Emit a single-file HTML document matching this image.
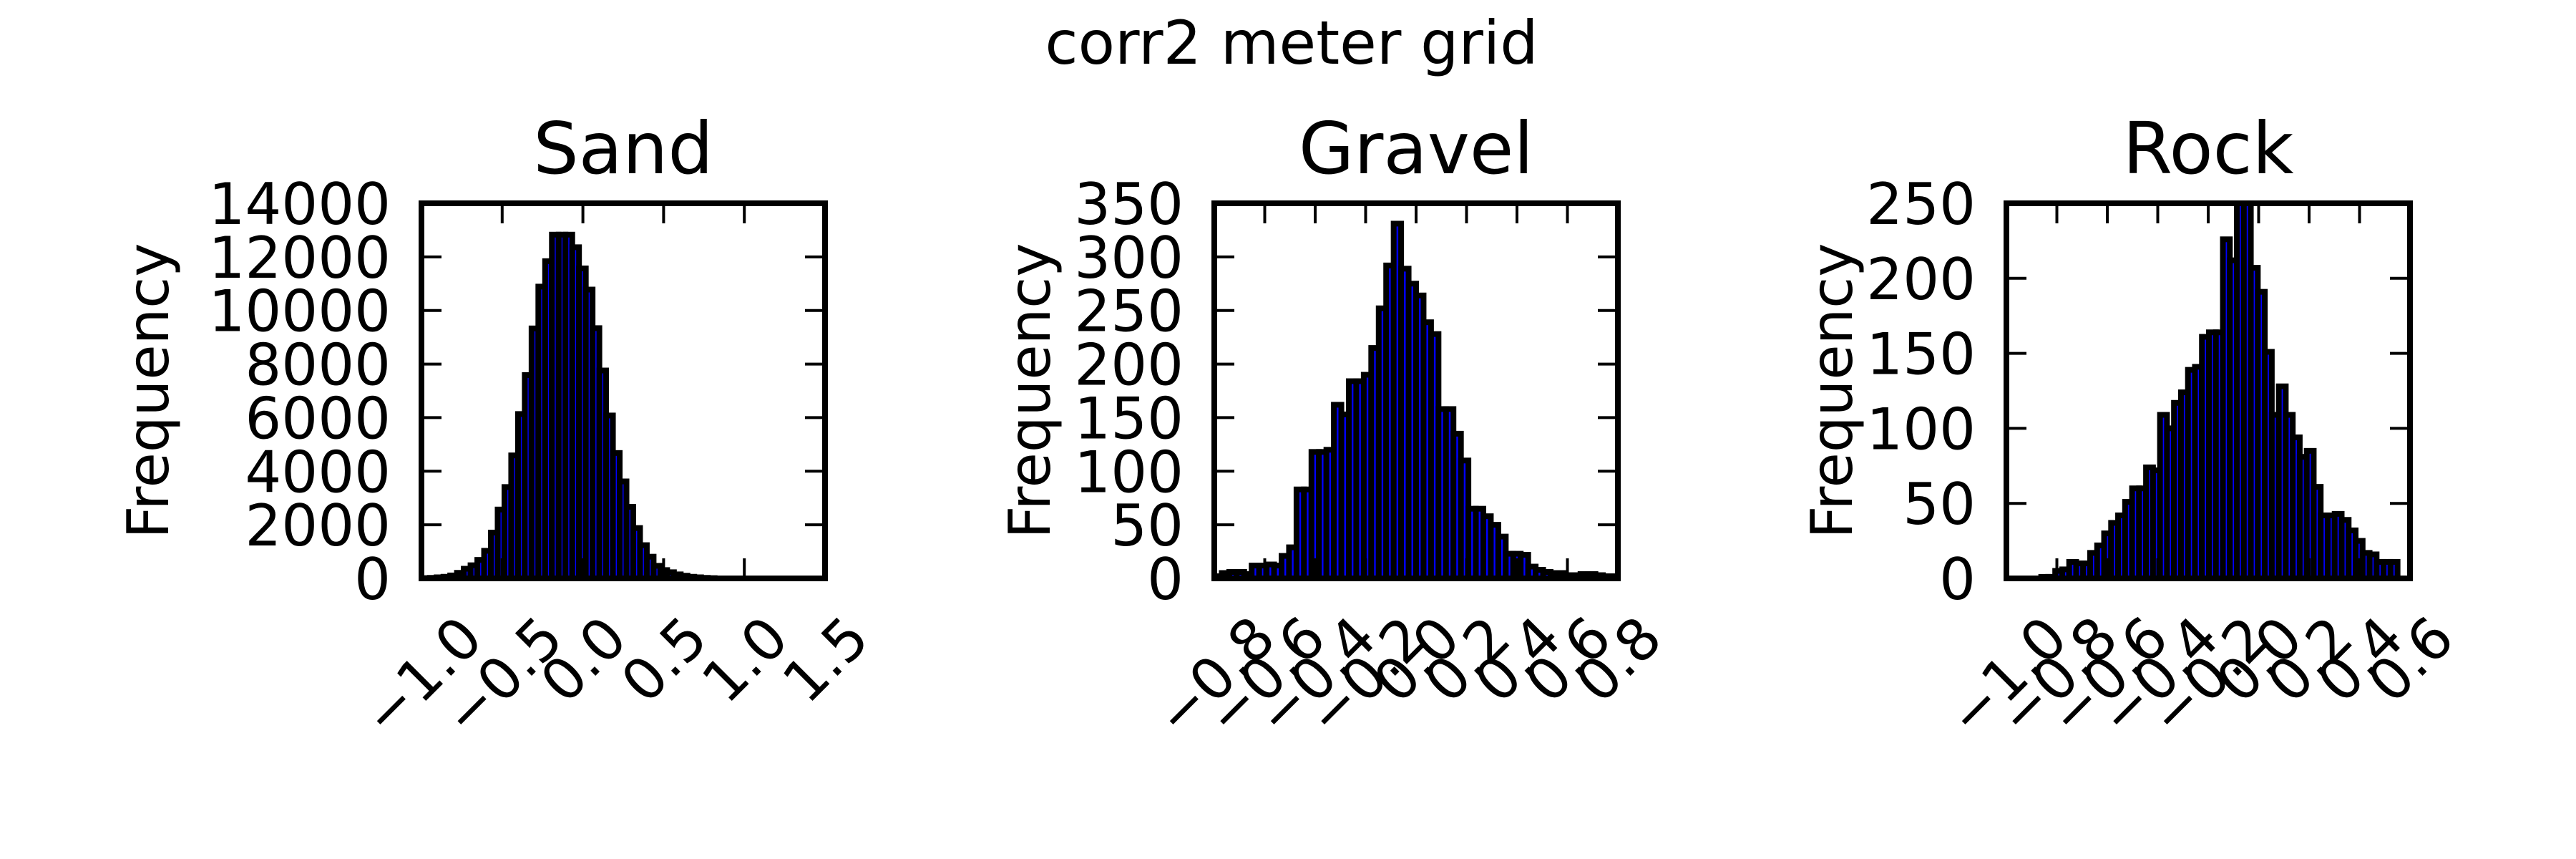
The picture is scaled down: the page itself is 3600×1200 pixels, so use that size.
<!DOCTYPE html>
<html><head><meta charset="utf-8"><style>
html,body{margin:0;padding:0;background:#fff;}
svg{display:block;font-family:"DejaVu Sans","Liberation Sans",sans-serif;}
</style></head><body>
<svg id="chart" width="3600" height="1200" viewBox="0 0 3600 1200" xmlns="http://www.w3.org/2000/svg">
<rect x="0" y="0" width="3600" height="1200" fill="#fff"/>
<text x="1805" y="89" font-size="84" text-anchor="middle">corr2 meter grid</text>
</svg>
<script>
// Sand panel data
const sandCounts = [10,20,40,60,110,207,360,490,690,1030,1710,2570,3410,4590,6135,7590,9330,10890,11840,12830,12830,12830,12360,11570,10780,9340,7760,6080,4680,3620,2670,1880,1240,810,470,310,230,150,100,60,40,20,10];
const sandBinStart = -0.99;
const sandBinWidth = 0.042;
const sandXTicks = [-1.0,-0.5,0.0,0.5,1.0,1.5];
const sandXTickLabels = ["\u22121.0","\u22120.5","0.0","0.5","1.0","1.5"];
const sandYTicks = [0,2000,4000,6000,8000,10000,12000,14000];
// Gravel panel data
const gravelCounts = [2,5,6,6,4,12,12,13,12,21,29,83,83,118,118,120,162,153,184,184,190,215,252,292,331,289,275,264,239,228,158,158,135,110,65,65,58,50,39,23,23,22,11,8,6,5,5,3,3,4,4,3,2,2];
const gravelBinStart = -0.8;
const gravelBinWidth = 1.6/54;
const gravelXTicks = [-0.8,-0.6,-0.4,-0.2,0.0,0.2,0.4,0.6,0.8];
const gravelXTickLabels = ["\u22120.8","\u22120.6","\u22120.4","\u22120.2","0.0","0.2","0.4","0.6","0.8"];
const gravelYTicks = [0,50,100,150,200,250,300,350];
// Rock panel data
const rockCounts = [1,1,5,6,11,10,10,17,22,30,37,42,51,60,60,74,72,109,100,117,124,139,141,161,164,164,226,212,255,255,207,191,151,109,128,109,94,81,85,61,42,42,43,39,32,25,17,16,11,11,11];
const rockBinStart = -0.862;
const rockBinWidth = 0.0277;
const rockXTicks = [-1.0,-0.8,-0.6,-0.4,-0.2,0.0,0.2,0.4,0.6];
const rockXTickLabels = ["\u22121.0","\u22120.8","\u22120.6","\u22120.4","\u22120.2","0.0","0.2","0.4","0.6"];
const rockYTicks = [0,50,100,150,200,250];

const NS = "http://www.w3.org/2000/svg";
const svg = document.getElementById('chart');
function mk(tag, attrs, parent){
  const e = document.createElementNS(NS, tag);
  for (const k in attrs) e.setAttribute(k, attrs[k]);
  (parent||svg).appendChild(e);
  return e;
}
const TOP = 284, BOT = 808;

function panel(key, title, left, xmin, xmax, ymax, counts, bStart, bW, xTicks, xLabels, yTicks, ylabelX){
  const W = 564, right = left + W;
  const g = mk('g', {});
  
  
  const xs = v => left + (v - xmin) / (xmax - xmin) * W;
  const ys = v => BOT - v / ymax * (BOT - TOP);
  const clip = mk('clipPath', {id: 'clip-' + key}, g);
  mk('rect', {x: left, y: TOP, width: W, height: BOT - TOP}, clip);
  const bars = mk('g', {'clip-path': 'url(#clip-' + key + ')'}, g);
  for (let i = 0; i < counts.length; i++) {
    const x0 = xs(bStart + i * bW), x1 = xs(bStart + (i + 1) * bW);
    const r = mk('rect', {x: x0, y: ys(counts[i]), width: x1 - x0, height: BOT - ys(counts[i]), fill: '#0000ff', stroke: '#000', 'stroke-width': 8}, bars);
    
    
  }
  // ticks
  for (const t of xTicks) {
    const x = xs(t);
    if (x <= left + 2 || x >= right - 2) continue;
    mk('line', {x1: x, x2: x, y1: TOP, y2: TOP + 28, stroke: '#000', 'stroke-width': 4}, g);
    mk('line', {x1: x, x2: x, y1: BOT, y2: BOT - 28, stroke: '#000', 'stroke-width': 4}, g);
  }
  for (const t of yTicks) {
    const y = ys(t);
    if (y <= TOP + 2 || y >= BOT - 2) continue;
    mk('line', {x1: left, x2: left + 28, y1: y, y2: y, stroke: '#000', 'stroke-width': 4}, g);
    mk('line', {x1: right, x2: right - 28, y1: y, y2: y, stroke: '#000', 'stroke-width': 4}, g);
  }
  const frame = mk('rect', {x: left, y: TOP, width: W, height: BOT - TOP, fill: 'none', stroke: '#000', 'stroke-width': 8}, g);
  
  
  // y tick labels
  for (const t of yTicks) {
    const tl = mk('text', {x: left - 43, y: ys(t) + 29, 'font-size': 80, 'text-anchor': 'end'}, g);
    tl.textContent = String(t);
    
    
  }
  // x tick labels rotated 45
  for (let i = 0; i < xTicks.length; i++) {
    const tl = mk('text', {x: 0, y: 0, 'font-size': 80, 'text-anchor': 'middle'}, g);
    tl.textContent = xLabels[i];
    
    
    const w = tl.getComputedTextLength ? tl.getComputedTextLength() : 150;
    const h = 58;
    const half = (w + h) / (2 * Math.SQRT2);
    const cx = xs(xTicks[i]), cy = 855 + half;
    tl.setAttribute('transform', 'translate(' + cx + ',' + cy + ') rotate(-45)');
    tl.setAttribute('y', 29);
  }
  const tt = mk('text', {x: left + W / 2, y: 242, 'font-size': 100, 'text-anchor': 'middle'}, g);
  tt.textContent = title;
  
  
  const yl = mk('text', {x: 0, y: 0, 'font-size': 80, 'text-anchor': 'middle', transform: 'translate(' + ylabelX + ',' + ((TOP + BOT) / 2) + ') rotate(-90) translate(0,29)'}, g);
  yl.textContent = 'Frequency';
  
  
}
panel('sand', 'Sand', 589, -1.0, 1.5, 14000, sandCounts, sandBinStart, sandBinWidth, sandXTicks, sandXTickLabels, sandYTicks, 206);
panel('gravel', 'Gravel', 1697, -0.8, 0.8, 350, gravelCounts, gravelBinStart, gravelBinWidth, gravelXTicks, gravelXTickLabels, gravelYTicks, 1438);
panel('rock', 'Rock', 2804, -1.0, 0.6, 250, rockCounts, rockBinStart, rockBinWidth, rockXTicks, rockXTickLabels, rockYTicks, 2559);
</script>
</body></html>
